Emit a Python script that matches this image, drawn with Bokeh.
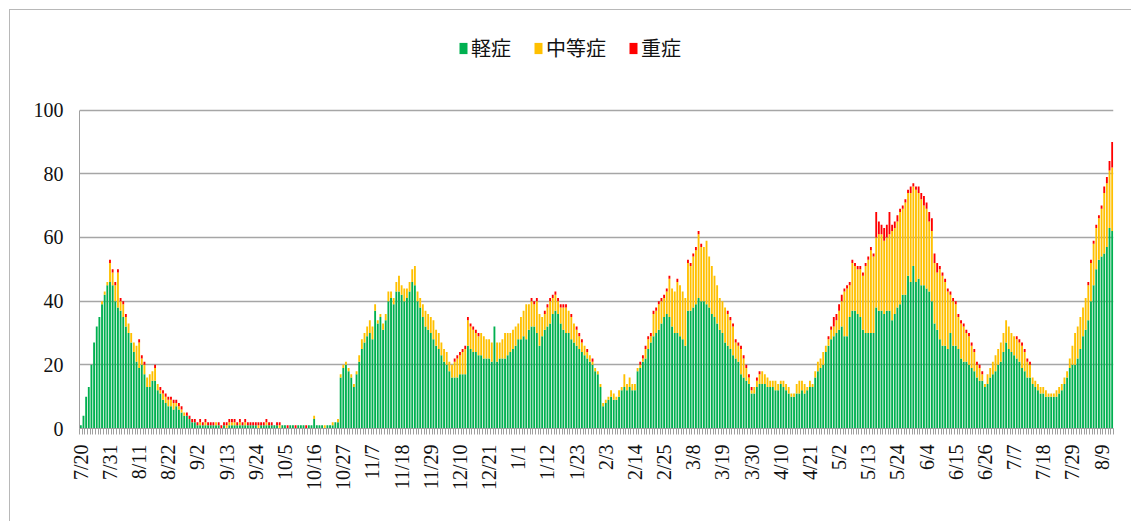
import math
from bokeh.plotting import figure
from bokeh.models import ColumnDataSource, Range1d, FixedTicker, Legend, LegendItem
from bokeh.embed import file_html
from bokeh.resources import INLINE

# ---- data (daily counts from 7/20 to 8/13 of next year) ----
tick_step = 11
tick_labels = ["7/20", "7/31", "8/11", "8/22", "9/2", "9/13", "9/24", "10/5", "10/16",
               "10/27", "11/7", "11/18", "11/29", "12/10", "12/21", "1/1", "1/12", "1/23",
               "2/3", "2/14", "2/25", "3/8", "3/19", "3/30", "4/10", "4/21", "5/2", "5/13",
               "5/24", "6/4", "6/15", "6/26", "7/7", "7/18", "7/29", "8/9"]
y_ticks = [0, 20, 40, 60, 80, 100]

series_names = ["軽症", "中等症", "重症"]

mild = [
    1, 4, 10, 13, 20, 27, 32, 35, 39, 42,
    45, 46, 45, 40, 38, 37, 35, 32, 30, 27,
    24, 21, 19, 20, 17, 13, 13, 15, 15, 12,
    11, 9, 8, 7, 7, 6, 7, 6, 5, 4,
    4, 3, 2, 2, 1, 1, 1, 1, 1, 1,
    1, 1, 1, 0, 1, 0, 1, 1, 1, 1,
    1, 1, 1, 1, 1, 1, 1, 0, 1, 1,
    1, 1, 1, 1, 1, 0, 1, 1, 0, 1,
    1, 0, 1, 1, 1, 0, 1, 1, 3, 1,
    1, 1, 0, 1, 1, 1, 2, 2, 16, 19,
    20, 18, 16, 13, 17, 21, 25, 27, 29, 30,
    28, 37, 33, 35, 31, 34, 40, 41, 39, 43,
    43, 42, 40, 41, 43, 46, 45, 40, 38, 35,
    32, 31, 30, 28, 26, 25, 23, 21, 20, 18,
    16, 16, 16, 17, 17, 17, 26, 25, 24, 24,
    23, 23, 22, 22, 22, 21, 32, 21, 22, 22,
    22, 23, 24, 25, 26, 28, 28, 29, 28, 31,
    32, 32, 30, 26, 29, 31, 32, 33, 36, 37,
    36, 33, 31, 30, 30, 28, 27, 26, 25, 24,
    23, 22, 21, 20, 18, 17, 13, 7, 8, 9,
    10, 9, 9, 10, 12, 13, 12, 13, 12, 12,
    18, 19, 21, 22, 25, 27, 29, 30, 31, 33,
    35, 36, 35, 32, 30, 30, 29, 28, 26, 37,
    37, 38, 39, 41, 40, 40, 39, 38, 36, 35,
    33, 31, 30, 27, 26, 25, 23, 22, 21, 17,
    16, 15, 14, 11, 11, 13, 14, 14, 14, 13,
    13, 13, 12, 12, 14, 13, 12, 11, 10, 10,
    11, 11, 12, 11, 12, 13, 13, 16, 18, 19,
    20, 24, 26, 28, 29, 30, 31, 32, 29, 29,
    35, 37, 37, 36, 35, 31, 30, 30, 30, 30,
    38, 37, 37, 36, 37, 37, 34, 36, 38, 39,
    42, 42, 48, 46, 51, 46, 47, 45, 45, 44,
    43, 40, 33, 31, 28, 26, 26, 25, 30, 26,
    26, 25, 22, 21, 21, 20, 19, 18, 16, 15,
    15, 13, 14, 16, 17, 18, 20, 21, 24, 27,
    25, 24, 23, 22, 21, 19, 18, 16, 16, 14,
    13, 12, 11, 11, 10, 10, 10, 10, 10, 11,
    12, 14, 16, 19, 20, 20, 22, 25, 29, 31,
    34, 40, 45, 50, 53, 54, 55, 57, 63, 62,
]

moderate = [
    0, 0, 0, 0, 0, 0, 0, 0, 1, 1,
    1, 6, 4, 5, 11, 3, 4, 3, 3, 3,
    3, 5, 8, 2, 3, 3, 4, 3, 4, 2,
    1, 2, 2, 2, 2, 2, 1, 1, 1, 1,
    0, 0, 0, 0, 0, 1, 0, 1, 0, 0,
    0, 1, 0, 0, 0, 1, 1, 1, 1, 0,
    1, 0, 1, 0, 0, 0, 0, 1, 0, 0,
    1, 0, 0, 0, 0, 1, 0, 0, 0, 0,
    0, 0, 0, 0, 0, 0, 0, 0, 1, 0,
    0, 0, 1, 0, 0, 1, 0, 1, 1, 1,
    1, 1, 1, 1, 1, 2, 3, 3, 3, 4,
    4, 2, 1, 1, 2, 2, 3, 2, 2, 3,
    5, 3, 4, 3, 3, 4, 6, 3, 3, 4,
    5, 5, 5, 6, 5, 5, 4, 4, 4, 3,
    4, 5, 6, 6, 7, 8, 8, 7, 7, 6,
    6, 7, 7, 6, 6, 6, 0, 6, 5, 6,
    8, 7, 6, 6, 6, 5, 7, 8, 11, 8,
    8, 7, 10, 10, 6, 5, 6, 7, 5, 5,
    4, 5, 7, 8, 7, 7, 6, 5, 4, 3,
    3, 2, 2, 1, 1, 1, 1, 1, 1, 1,
    2, 2, 1, 2, 1, 4, 2, 3, 2, 2,
    1, 1, 1, 3, 3, 2, 7, 7, 8, 7,
    6, 7, 12, 12, 13, 16, 16, 15, 15, 15,
    14, 16, 17, 20, 17, 17, 20, 16, 15, 13,
    12, 10, 10, 11, 10, 9, 9, 5, 5, 8,
    6, 4, 2, 1, 2, 2, 3, 4, 3, 3,
    2, 2, 3, 2, 1, 2, 2, 2, 1, 1,
    3, 4, 3, 3, 1, 2, 1, 2, 3, 3,
    4, 2, 2, 3, 3, 4, 6, 8, 14, 15,
    10, 15, 14, 14, 15, 17, 21, 23, 26, 24,
    22, 24, 24, 23, 23, 24, 28, 27, 27, 29,
    27, 29, 26, 28, 25, 29, 27, 27, 25, 25,
    22, 22, 19, 18, 22, 22, 20, 18, 12, 14,
    13, 10, 11, 11, 9, 9, 7, 6, 4, 4,
    2, 1, 3, 3, 4, 5, 5, 6, 6, 7,
    7, 6, 6, 6, 6, 7, 6, 5, 4, 2,
    2, 2, 2, 2, 2, 1, 1, 1, 2, 2,
    2, 2, 2, 3, 6, 10, 10, 10, 9, 10,
    11, 12, 13, 13, 13, 15, 19, 20, 18, 20,
]

severe = [
    0, 0, 0, 0, 0, 0, 0, 0, 0, 0,
    0, 1, 1, 1, 1, 1, 1, 1, 0, 0,
    0, 0, 1, 1, 1, 0, 0, 0, 1, 0,
    1, 1, 1, 1, 1, 1, 1, 1, 1, 0,
    1, 1, 1, 1, 1, 1, 1, 1, 1, 1,
    1, 0, 1, 1, 1, 1, 1, 1, 1, 1,
    1, 1, 1, 1, 1, 1, 1, 1, 1, 1,
    1, 1, 1, 0, 1, 1, 0, 0, 1, 0,
    0, 1, 0, 0, 0, 1, 0, 0, 0, 0,
    0, 0, 0, 0, 0, 0, 0, 0, 0, 0,
    0, 0, 0, 0, 0, 0, 0, 0, 0, 0,
    0, 0, 0, 0, 0, 0, 0, 0, 0, 0,
    0, 0, 0, 0, 0, 0, 0, 0, 0, 0,
    0, 0, 0, 0, 0, 0, 0, 0, 0, 0,
    0, 1, 1, 1, 1, 1, 1, 1, 1, 1,
    1, 0, 0, 0, 0, 0, 0, 0, 0, 0,
    0, 0, 0, 0, 0, 0, 0, 0, 0, 0,
    1, 1, 1, 0, 0, 1, 1, 1, 1, 1,
    1, 1, 1, 1, 0, 1, 0, 1, 1, 1,
    0, 1, 0, 1, 0, 0, 0, 0, 0, 0,
    0, 0, 0, 0, 0, 0, 0, 0, 0, 0,
    0, 1, 1, 1, 1, 1, 1, 1, 1, 1,
    1, 1, 1, 0, 0, 1, 0, 0, 0, 1,
    1, 1, 1, 1, 1, 0, 0, 0, 0, 0,
    0, 0, 0, 0, 1, 1, 1, 1, 1, 1,
    1, 1, 1, 1, 0, 1, 1, 0, 0, 0,
    0, 0, 0, 0, 0, 0, 0, 0, 0, 0,
    0, 0, 0, 0, 0, 0, 0, 0, 0, 0,
    0, 0, 1, 1, 3, 2, 2, 2, 1, 1,
    1, 1, 1, 1, 1, 1, 1, 1, 1, 1,
    8, 4, 3, 4, 4, 7, 2, 2, 2, 1,
    1, 1, 1, 2, 1, 1, 2, 2, 3, 2,
    3, 4, 3, 3, 1, 1, 1, 1, 1, 1,
    1, 1, 1, 1, 1, 1, 1, 1, 1, 1,
    1, 0, 0, 0, 0, 0, 0, 0, 0, 0,
    0, 0, 0, 1, 1, 1, 1, 1, 1, 0,
    0, 0, 0, 0, 0, 0, 0, 0, 0, 0,
    0, 0, 0, 0, 0, 0, 0, 0, 0, 0,
    1, 1, 1, 1, 1, 1, 2, 2, 3, 8,
]

colors = ["#00B050", "#FFC000", "#FF0000"]

n = len(mild)
src = ColumnDataSource(dict(day=list(range(n)), mild=mild, moderate=moderate, severe=severe))

# frame: 398 px tall; 0 at page y=428, 100 at y~110; headroom above 100 holds the legend
p = figure(width=1122, height=512, output_backend="svg", toolbar_location=None,
           x_range=Range1d(-0.5, n - 0.5), y_range=Range1d(0, 125),
           min_border_left=69, min_border_right=19, min_border_top=20, min_border_bottom=94)
p.outline_line_color = None
p.background_fill_color = "white"
p.border_fill_color = "white"
p.styles = {"margin-left": "9px", "margin-top": "9px",
            "border-top": "1px solid #b8b8b8", "border-left": "1px solid #b8b8b8"}

rs = p.vbar_stack(["mild", "moderate", "severe"], x="day", width=0.7,
                  fill_color=colors, line_color=None, source=src)

# x axis
ticks = [i * tick_step for i in range(len(tick_labels))]
p.xaxis.ticker = FixedTicker(ticks=ticks, minor_ticks=[i - 0.5 for i in range(n + 1)])
p.xaxis.major_label_overrides = {t: lab for t, lab in zip(ticks, tick_labels)}
p.xaxis.major_label_orientation = math.pi / 2
p.xaxis.major_label_text_font = "Liberation Serif"
p.xaxis.major_label_text_font_size = "20px"
p.xaxis.major_label_text_color = "#111111"
p.xaxis.major_tick_out = 0
p.xaxis.major_tick_in = 0
p.xaxis.minor_tick_out = 6
p.xaxis.minor_tick_in = 0
p.xaxis.minor_tick_line_color = "#a0a0a0"
p.xaxis.axis_line_color = "#a0a0a0"
p.xaxis.major_label_standoff = 10

# y axis
p.yaxis.ticker = FixedTicker(ticks=y_ticks)
p.yaxis.bounds = (0, 100)
p.yaxis.major_label_text_font = "Liberation Serif"
p.yaxis.major_label_text_font_size = "20px"
p.yaxis.major_label_text_color = "#111111"
p.yaxis.major_tick_out = 0
p.yaxis.major_tick_in = 0
p.yaxis.minor_tick_line_color = None
p.yaxis.axis_line_color = "#a0a0a0"
p.yaxis.major_label_standoff = 16

p.xgrid.grid_line_color = None
p.ygrid.ticker = FixedTicker(ticks=y_ticks)
p.ygrid.grid_line_color = "#a6a6a6"
p.ygrid.grid_line_width = 1.5

legend = Legend(items=[LegendItem(label=nm, renderers=[r]) for nm, r in zip(series_names, rs)],
                location=(379, 366), orientation="horizontal",
                label_text_font="Noto Sans CJK JP", label_text_font_size="20px",
                label_text_color="#111111",
                glyph_width=10, glyph_height=14, label_standoff=3, spacing=22,
                padding=0, margin=0, border_line_color=None, background_fill_alpha=0)
p.add_layout(legend)

open("out.html", "w").write(file_html(p, INLINE))
